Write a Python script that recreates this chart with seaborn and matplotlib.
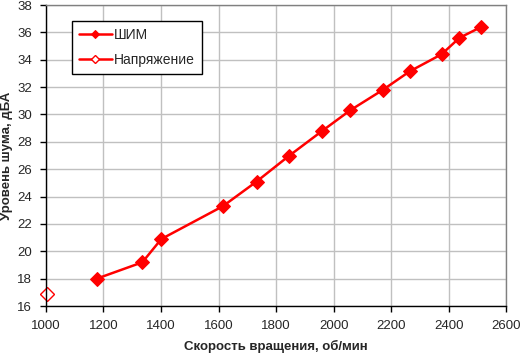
import numpy as np
import pandas as pd
import matplotlib
matplotlib.use("Agg")
import matplotlib.pyplot as plt
import seaborn as sns

# PWM series (rpm, dBA)
pwm_rpm = [1176, 1335, 1401, 1615, 1732, 1843, 1960, 2057, 2171, 2264, 2375, 2437, 2513]
pwm_dba = [18.0, 19.2, 20.9, 23.3, 25.1, 26.95, 28.8, 30.3, 31.8, 33.15, 34.4, 35.6, 36.4]

# Voltage series
volt_rpm = [1004]
volt_dba = [16.85]

x_ticks = list(range(1000, 2601, 200))
y_ticks = list(range(16, 39, 2))

sns.set_style("white")
plt.rcParams['font.family'] = ['Liberation Sans', 'DejaVu Sans']

fig = plt.figure(figsize=(5.22, 3.58), dpi=100)
ax = fig.add_axes([0.088, 0.145, 0.882, 0.841])

df_pwm = pd.DataFrame({"rpm": pwm_rpm, "dba": pwm_dba})
df_volt = pd.DataFrame({"rpm": volt_rpm, "dba": volt_dba})

sns.lineplot(data=df_pwm, x="rpm", y="dba", ax=ax, color="#ff0000", lw=1.8,
             marker="D", markersize=7, markeredgecolor="#ff0000",
             markerfacecolor="#ff0000", label="ШИМ", sort=False)
sns.lineplot(data=df_volt, x="rpm", y="dba", ax=ax, color="#ff0000", lw=1.8,
             marker="D", markersize=7, markeredgecolor="#ff0000", markeredgewidth=1,
             markerfacecolor="white", label="Напряжение", sort=False, clip_on=False)

ax.set_xlim(1000, 2600)
ax.set_ylim(16, 38)
ax.set_xticks(x_ticks)
ax.set_yticks(y_ticks)
ax.tick_params(axis="both", labelsize=9.5, direction="out", length=4,
               width=1, color="black", bottom=True, left=True)
ax.tick_params(axis="x", pad=6)
ax.tick_params(axis="y", pad=6)
ax.grid(True, color="#c0c0c0", lw=1)
ax.set_axisbelow(True)

for side in ["top", "right"]:
    ax.spines[side].set_color("#808080")
    ax.spines[side].set_linewidth(1)
for side in ["left", "bottom"]:
    ax.spines[side].set_color("black")
    ax.spines[side].set_linewidth(1)

ax.set_xlabel("Скорость вращения, об/мин", fontsize=9.5, fontweight="bold", labelpad=6)
ax.set_ylabel("Уровень шума, дБА", fontsize=9.5, fontweight="bold")
ax.yaxis.set_label_coords(-0.072, 0.5)

leg = ax.legend(loc="upper left", bbox_to_anchor=(0.056, 0.947), fontsize=10,
                frameon=True, fancybox=False, edgecolor="black", framealpha=1,
                borderpad=0.5, labelspacing=0.8, handlelength=2.4, handletextpad=0.15,
                borderaxespad=0, markerscale=0.65)
leg.get_frame().set_linewidth(1)

fig.savefig("out.png", dpi=100)
